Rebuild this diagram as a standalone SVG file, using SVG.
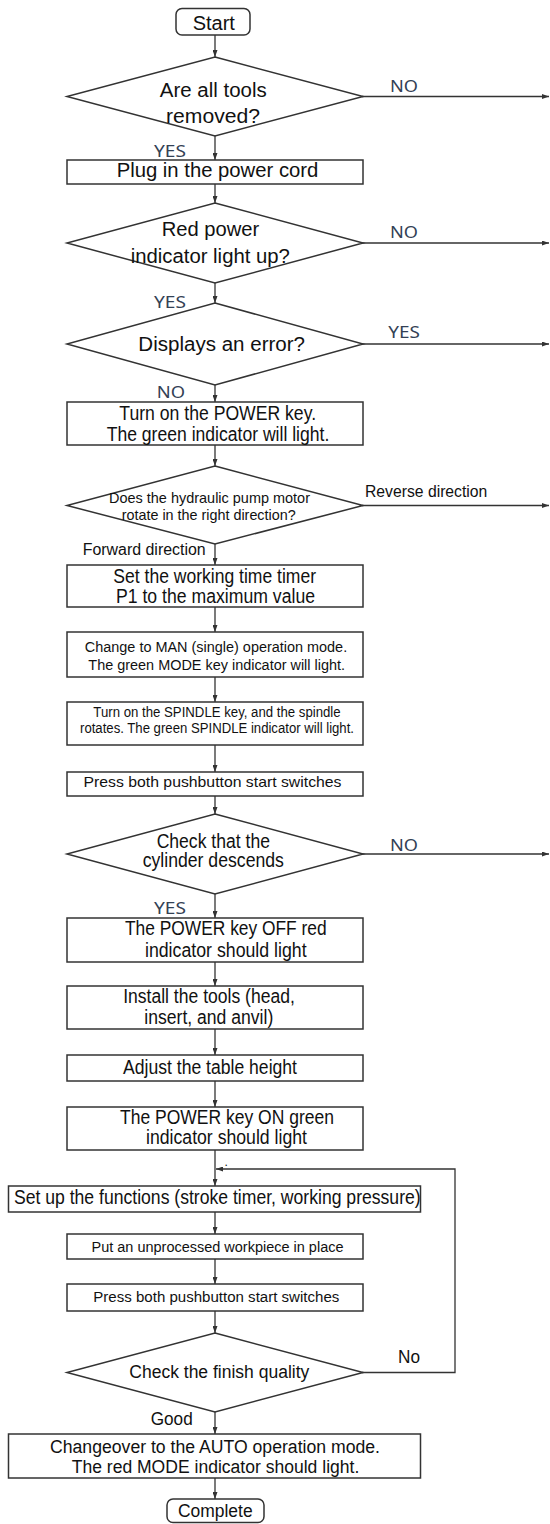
<svg xmlns="http://www.w3.org/2000/svg" width="550" height="1524" viewBox="0 0 550 1524">
<defs>
<marker id="ah" markerUnits="userSpaceOnUse" markerWidth="7" markerHeight="5" refX="7" refY="2.5" orient="auto">
<path d="M0,0 L7,2.5 L0,5 z" fill="#333"/>
</marker>
<style>
.b{fill:#fff;stroke:#333;stroke-width:1.5}
.c{fill:none;stroke:#333;stroke-width:1.3;marker-end:url(#ah)}
.t{font-family:"Liberation Sans",Arial,sans-serif;fill:#111;text-anchor:middle}
.s{font-family:"Liberation Sans",Arial,sans-serif;fill:#111}
.k{font-family:"Noto Sans","DejaVu Sans",sans-serif;fill:#334155;font-size:16px}
</style>
</defs>
<rect width="550" height="1524" fill="#fff"/>

<g id="connectors">
<line class="c" x1="215" y1="35" x2="215" y2="57"/>
<line class="c" x1="215" y1="136" x2="215" y2="160"/>
<line class="c" x1="215" y1="184" x2="215" y2="203"/>
<line class="c" x1="215" y1="283" x2="215" y2="303"/>
<line class="c" x1="215" y1="385" x2="215" y2="402"/>
<line class="c" x1="215" y1="445" x2="215" y2="466"/>
<line class="c" x1="215" y1="544" x2="215" y2="565"/>
<line class="c" x1="215" y1="607" x2="215" y2="632"/>
<line class="c" x1="215" y1="677" x2="215" y2="702"/>
<line class="c" x1="215" y1="745" x2="215" y2="772"/>
<line class="c" x1="215" y1="796" x2="215" y2="814"/>
<line class="c" x1="215" y1="894" x2="215" y2="918"/>
<line class="c" x1="215" y1="962" x2="215" y2="986"/>
<line class="c" x1="215" y1="1029" x2="215" y2="1055"/>
<line class="c" x1="215" y1="1081" x2="215" y2="1107"/>
<line class="c" x1="215" y1="1150" x2="215" y2="1186"/>
<line class="c" x1="215" y1="1212" x2="215" y2="1234"/>
<line class="c" x1="215" y1="1259" x2="215" y2="1284"/>
<line class="c" x1="215" y1="1311" x2="215" y2="1333"/>
<line class="c" x1="215" y1="1412" x2="215" y2="1434"/>
<line class="c" x1="215" y1="1478" x2="215" y2="1499"/>
<line class="c" x1="362" y1="96.5" x2="549" y2="96.5"/>
<line class="c" x1="362" y1="243" x2="549" y2="243"/>
<line class="c" x1="362" y1="344" x2="549" y2="344"/>
<line class="c" x1="362" y1="505.5" x2="549" y2="505.5"/>
<line class="c" x1="362" y1="854" x2="549" y2="854"/>
<polyline class="c" points="362,1372.5 455,1372.5 455,1169 216,1169"/>
<text class="k" x="390" y="91.7" textLength="28" lengthAdjust="spacingAndGlyphs">NO</text>
<text class="k" x="154" y="156.7" textLength="32" lengthAdjust="spacingAndGlyphs">YES</text>
<text class="k" x="390" y="238.3" textLength="28" lengthAdjust="spacingAndGlyphs">NO</text>
<text class="k" x="154" y="308" textLength="32" lengthAdjust="spacingAndGlyphs">YES</text>
<text class="k" x="388.3" y="338.3" textLength="31.7" lengthAdjust="spacingAndGlyphs">YES</text>
<text class="k" x="156.7" y="398.3" textLength="28.3" lengthAdjust="spacingAndGlyphs">NO</text>
<text class="s" x="365" y="496.7" font-size="16" textLength="122.3" lengthAdjust="spacingAndGlyphs">Reverse direction</text>
<text class="s" x="82.7" y="555" font-size="16" textLength="123" lengthAdjust="spacingAndGlyphs">Forward direction</text>
<text class="k" x="390" y="851" textLength="28" lengthAdjust="spacingAndGlyphs">NO</text>
<text class="k" x="154" y="914.3" textLength="32" lengthAdjust="spacingAndGlyphs">YES</text>
<text class="s" x="224.5" y="1166" font-size="12">.</text>
<text class="s" x="398" y="1363.3" font-size="17.5" textLength="22" lengthAdjust="spacingAndGlyphs">No</text>
<text class="s" x="150.7" y="1425" font-size="17.5" textLength="42" lengthAdjust="spacingAndGlyphs">Good</text>
</g>

<g id="start">
<rect class="b" x="176" y="8.5" width="74" height="26.5" rx="6"/>
<text class="t" x="213.8" y="30" font-size="20" textLength="42.3" lengthAdjust="spacingAndGlyphs">Start</text>
</g>

<g id="d1">
<polygon class="b" points="215,57 363,96.5 215,136 67,96.5"/>
<text class="t" x="213.3" y="96.5" font-size="20" textLength="107" lengthAdjust="spacingAndGlyphs">Are all tools</text>
<text class="t" x="213" y="122.7" font-size="20" textLength="94" lengthAdjust="spacingAndGlyphs">removed?</text>
</g>

<g id="plug">
<rect class="b" x="67" y="160" width="296" height="24"/>
<text class="t" x="217.5" y="176.7" font-size="20" textLength="201.7" lengthAdjust="spacingAndGlyphs">Plug in the power cord</text>
</g>

<g id="d2">
<polygon class="b" points="215,203 363,243 215,283 67,243"/>
<text class="t" x="210.5" y="236" font-size="20" textLength="97.6" lengthAdjust="spacingAndGlyphs">Red power</text>
<text class="t" x="210.3" y="263.3" font-size="20" textLength="159.3" lengthAdjust="spacingAndGlyphs">indicator light up?</text>
</g>

<g id="d3">
<polygon class="b" points="215,303 363,344 215,385 67,344"/>
<text class="t" x="221.7" y="350.7" font-size="20" textLength="166.7" lengthAdjust="spacingAndGlyphs">Displays an error?</text>
</g>

<g id="powerkey">
<rect class="b" x="67" y="402" width="296" height="43"/>
<text class="t" x="217.7" y="420" font-size="20" textLength="196.7" lengthAdjust="spacingAndGlyphs">Turn on the POWER key.</text>
<text class="t" x="218" y="441" font-size="20" textLength="222.7" lengthAdjust="spacingAndGlyphs">The green indicator will light.</text>
</g>

<g id="d4">
<polygon class="b" points="215,466 363,505.5 215,544 67,505.5"/>
<text class="t" x="209.5" y="502.7" font-size="14.5" textLength="201" lengthAdjust="spacingAndGlyphs">Does the hydraulic pump motor</text>
<text class="t" x="208.7" y="520" font-size="14.5" textLength="174" lengthAdjust="spacingAndGlyphs">rotate in the right direction?</text>
</g>

<g id="timer">
<rect class="b" x="67" y="565" width="296" height="42"/>
<text class="t" x="214.7" y="583" font-size="20" textLength="202.7" lengthAdjust="spacingAndGlyphs">Set the working time timer</text>
<text class="t" x="215.5" y="603.3" font-size="20" textLength="199" lengthAdjust="spacingAndGlyphs">P1 to the maximum value</text>
</g>

<g id="man">
<rect class="b" x="67" y="632" width="296" height="45"/>
<text class="t" x="216" y="651.7" font-size="14" textLength="262.3" lengthAdjust="spacingAndGlyphs">Change to MAN (single) operation mode.</text>
<text class="t" x="216.7" y="670" font-size="14" textLength="256.7" lengthAdjust="spacingAndGlyphs">The green MODE key indicator will light.</text>
</g>

<g id="spindle">
<rect class="b" x="67" y="702" width="296" height="43"/>
<text class="t" x="217" y="717.3" font-size="14" textLength="247.3" lengthAdjust="spacingAndGlyphs">Turn on the SPINDLE key, and the spindle</text>
<text class="t" x="217" y="733.3" font-size="14" textLength="274" lengthAdjust="spacingAndGlyphs">rotates. The green SPINDLE indicator will light.</text>
</g>

<g id="press1">
<rect class="b" x="67" y="772" width="296" height="24"/>
<text class="t" x="212.5" y="786.7" font-size="14.5" textLength="258" lengthAdjust="spacingAndGlyphs">Press both pushbutton start switches</text>
</g>

<g id="d5">
<polygon class="b" points="215,814 363,854 215,894 67,854"/>
<text class="t" x="213.3" y="848.3" font-size="20" textLength="113.3" lengthAdjust="spacingAndGlyphs">Check that the</text>
<text class="t" x="213.3" y="867.3" font-size="20" textLength="141.3" lengthAdjust="spacingAndGlyphs">cylinder descends</text>
</g>

<g id="poweroff">
<rect class="b" x="67" y="918" width="296" height="44"/>
<text class="t" x="225.8" y="935" font-size="20" textLength="201.7" lengthAdjust="spacingAndGlyphs">The POWER key OFF red</text>
<text class="t" x="225.8" y="956.7" font-size="20" textLength="161.7" lengthAdjust="spacingAndGlyphs">indicator should light</text>
</g>

<g id="install">
<rect class="b" x="67" y="986" width="296" height="43"/>
<text class="t" x="209" y="1003.3" font-size="20" textLength="171.7" lengthAdjust="spacingAndGlyphs">Install the tools (head,</text>
<text class="t" x="208.8" y="1024.3" font-size="20" textLength="129" lengthAdjust="spacingAndGlyphs">insert, and anvil)</text>
</g>

<g id="table">
<rect class="b" x="67" y="1055" width="296" height="26"/>
<text class="t" x="210" y="1074" font-size="20" textLength="174" lengthAdjust="spacingAndGlyphs">Adjust the table height</text>
</g>

<g id="poweron">
<rect class="b" x="67" y="1107" width="296" height="43"/>
<text class="t" x="227" y="1124" font-size="20" textLength="214" lengthAdjust="spacingAndGlyphs">The POWER key ON green</text>
<text class="t" x="226.5" y="1144" font-size="20" textLength="161" lengthAdjust="spacingAndGlyphs">indicator should light</text>
</g>

<g id="functions">
<rect class="b" x="8.5" y="1186" width="412" height="26"/>
<text class="t" x="217.3" y="1204" font-size="20" textLength="406.7" lengthAdjust="spacingAndGlyphs">Set up the functions (stroke timer, working pressure)</text>
</g>

<g id="workpiece">
<rect class="b" x="67" y="1234" width="296" height="25"/>
<text class="t" x="217.5" y="1251.7" font-size="14" textLength="252" lengthAdjust="spacingAndGlyphs">Put an unprocessed workpiece in place</text>
</g>

<g id="press2">
<rect class="b" x="67" y="1284" width="296" height="27"/>
<text class="t" x="216.3" y="1301.7" font-size="14" textLength="246" lengthAdjust="spacingAndGlyphs">Press both pushbutton start switches</text>
</g>

<g id="d6">
<polygon class="b" points="215,1333 363,1372.5 215,1412 67,1372.5"/>
<text class="t" x="219.3" y="1377.7" font-size="18" textLength="180" lengthAdjust="spacingAndGlyphs">Check the finish quality</text>
</g>

<g id="auto">
<rect class="b" x="8.5" y="1434" width="412" height="44"/>
<text class="t" x="215" y="1452.7" font-size="18" textLength="330" lengthAdjust="spacingAndGlyphs">Changeover to the AUTO operation mode.</text>
<text class="t" x="215.5" y="1472.7" font-size="18" textLength="287.6" lengthAdjust="spacingAndGlyphs">The red MODE indicator should light.</text>
</g>

<g id="complete">
<rect class="b" x="167" y="1499" width="97" height="23.5" rx="6"/>
<text class="t" x="215.3" y="1516.7" font-size="17.5" textLength="74.7" lengthAdjust="spacingAndGlyphs">Complete</text>
</g>
</svg>
